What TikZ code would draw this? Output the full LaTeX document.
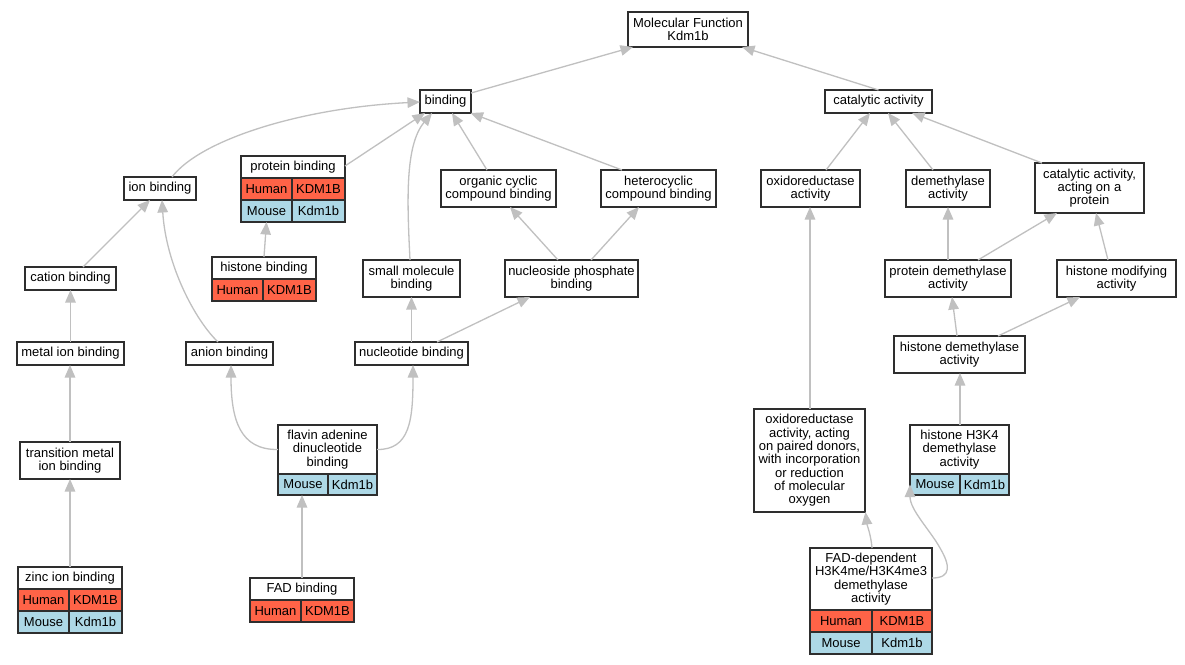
\documentclass[tikz,border=0pt]{standalone}
\usepackage{fontspec}
\setmainfont{Liberation Sans}
\usetikzlibrary{arrows.meta,calc}
\definecolor{edgegray}{HTML}{C0C0C0}
\definecolor{human}{HTML}{FF6347}
\definecolor{mouse}{HTML}{ADD8E6}
\definecolor{boxline}{HTML}{2E2E2E}
\begin{document}
\begin{tikzpicture}[x=1pt,y=-1pt,
  box/.style={draw=boxline, line width=1.3pt, fill=white, inner sep=0pt, align=center, font=\fontsize{13}{13.3}\selectfont},
  cell/.style={draw=boxline, line width=1.3pt, inner sep=0pt, align=center, font=\fontsize{13}{13.3}\selectfont},
  hcell/.style={cell, fill=human},
  mcell/.style={cell, fill=mouse},
  edge/.style={draw=edgegray, line width=1.3pt, -{Triangle[length=12.5pt,width=10.5pt]}}]
\fill[white] (0,0) rectangle (1185,664);
\useasboundingbox (0,0) rectangle (1185,664);

% plain boxes
\node[box, minimum width=120pt, minimum height=35pt] (mf) at (688,29.5) {Molecular Function\\Kdm1b};
\node[box, minimum width=51pt, minimum height=23pt] (bind) at (445.5,101.5) {binding};
\node[box, minimum width=107pt, minimum height=23pt] (cat) at (878.5,101.5) {catalytic activity};
\node[box, minimum width=72pt, minimum height=23pt] (ion) at (160,188.5) {ion binding};
\node[box, minimum width=115pt, minimum height=37pt] (ocb) at (498.5,188.5) {organic cyclic\\compound binding};
\node[box, minimum width=115pt, minimum height=37pt] (hcb) at (658.5,188.5) {heterocyclic\\compound binding};
\node[box, minimum width=99pt, minimum height=37pt] (oxa) at (810.5,188.5) {oxidoreductase\\activity};
\node[box, minimum width=84pt, minimum height=37pt] (dem) at (948,188.5) {demethylase\\activity};
\node[box, minimum width=109pt, minimum height=50pt] (cap) at (1089.5,188) {catalytic activity,\\acting on a\\protein};
\node[box, minimum width=91pt, minimum height=23pt] (cation) at (70.5,278.5) {cation binding};
\node[box, minimum width=97pt, minimum height=37pt] (smb) at (411.5,278.5) {small molecule\\binding};
\node[box, minimum width=133pt, minimum height=37pt] (npb) at (571.5,278.5) {nucleoside phosphate\\binding};
\node[box, minimum width=126pt, minimum height=37pt] (pdem) at (948,278.5) {protein demethylase\\activity};
\node[box, minimum width=119pt, minimum height=37pt] (hmod) at (1116.5,278.5) {histone modifying\\activity};
\node[box, minimum width=107pt, minimum height=23pt] (metal) at (70.5,353.5) {metal ion binding};
\node[box, minimum width=87pt, minimum height=23pt] (anion) at (229.5,353.5) {anion binding};
\node[box, minimum width=113pt, minimum height=23pt] (nuc) at (411.5,353.5) {nucleotide binding};
\node[box, minimum width=131pt, minimum height=37pt] (hdem) at (959.5,354.5) {histone demethylase\\activity};
\node[box, minimum width=100pt, minimum height=37pt] (tm) at (70,460.5) {transition metal\\ion binding};
\node[box, minimum width=111pt, minimum height=103pt] (oxp) at (809.5,460.5) {oxidoreductase\\activity, acting\\on paired donors,\\with incorporation\\or reduction\\of molecular\\oxygen};

% protein binding table
\node[box, minimum width=104pt, minimum height=22pt] (pb) at (293,167) {protein binding};
\node[hcell, minimum width=51pt, minimum height=22pt] (pb-h1) at (266.5,189) {Human};
\node[hcell, minimum width=53pt, minimum height=22pt] (pb-h2) at (318.5,189) {KDM1B};
\node[mcell, minimum width=51pt, minimum height=22pt] (pb-m1) at (266.5,211) {Mouse};
\node[mcell, minimum width=53pt, minimum height=22pt] (pb-m2) at (318.5,211) {Kdm1b};

% histone binding table
\node[box, minimum width=104pt, minimum height=22pt] (hb) at (264,268) {histone binding};
\node[hcell, minimum width=51pt, minimum height=22pt] (hb-h1) at (237.5,290) {Human};
\node[hcell, minimum width=53pt, minimum height=22pt] (hb-h2) at (289.5,290) {KDM1B};

% flavin table
\node[box, minimum width=99pt, minimum height=49pt] (fad) at (327.5,449.5) {flavin adenine\\dinucleotide\\binding};
\node[mcell, minimum width=50pt, minimum height=21pt] (fad-m1) at (303,484.5) {Mouse};
\node[mcell, minimum width=49pt, minimum height=21pt] (fad-m2) at (352.5,484.5) {Kdm1b};

% histone H3K4 table
\node[box, minimum width=99pt, minimum height=49pt] (h3k4) at (959.5,449.5) {histone H3K4\\demethylase\\activity};
\node[mcell, minimum width=50pt, minimum height=21pt] (h3k4-m1) at (935,484.5) {Mouse};
\node[mcell, minimum width=49pt, minimum height=21pt] (h3k4-m2) at (984.5,484.5) {Kdm1b};

% zinc table
\node[box, minimum width=104pt, minimum height=22pt] (zinc) at (70,578) {zinc ion binding};
\node[hcell, minimum width=51pt, minimum height=22pt] (zinc-h1) at (43.5,600) {Human};
\node[hcell, minimum width=53pt, minimum height=22pt] (zinc-h2) at (95.5,600) {KDM1B};
\node[mcell, minimum width=51pt, minimum height=22pt] (zinc-m1) at (43.5,622) {Mouse};
\node[mcell, minimum width=53pt, minimum height=22pt] (zinc-m2) at (95.5,622) {Kdm1b};

% FAD binding table
\node[box, minimum width=104pt, minimum height=22pt] (fadb) at (302,589) {FAD binding};
\node[hcell, minimum width=51pt, minimum height=22pt] (fadb-h1) at (275.5,611) {Human};
\node[hcell, minimum width=53pt, minimum height=22pt] (fadb-h2) at (327.5,611) {KDM1B};

% FAD-dependent table
\node[box, minimum width=122pt, minimum height=62pt] (fdep) at (871,579) {FAD-dependent\\H3K4me/H3K4me3\\demethylase\\activity};
\node[hcell, minimum width=62pt, minimum height=22pt] (fdep-h1) at (841,621) {Human};
\node[hcell, minimum width=60pt, minimum height=22pt] (fdep-h2) at (902,621) {KDM1B};
\node[mcell, minimum width=62pt, minimum height=22pt] (fdep-m1) at (841,643) {Mouse};
\node[mcell, minimum width=60pt, minimum height=22pt] (fdep-m2) at (902,643) {Kdm1b};

% edges
\draw[edge] ($(bind)+(25.5,-8.5)$) -- ($(mf)+(-55,17.5)$);
\draw[edge] ($(cat)+(0,-11.5)$) -- ($(mf)+(54,17.5)$);
\draw[edge] ($(ion)+(12,-11.5)$) .. controls (200,140) and (300,108) .. ($(bind)+(-25.5,0.5)$);
\draw[edge] ($(pb)+(52,-1)$) -- ($(bind)+(-20.5,11.5)$);
\draw[edge] ($(smb)+(-1.5,-18.5)$) .. controls (407,200) and (405,145) .. ($(bind)+(-13.5,11.5)$);
\draw[edge] ($(ocb)+(-11.5,-18.5)$) -- ($(bind)+(6.5,11.5)$);
\draw[edge] ($(hcb)+(-36.5,-18.5)$) -- ($(bind)+(25,11.5)$);
\draw[edge] ($(oxa)+(15.5,-18.5)$) -- ($(cat)+(-8.5,11.5)$);
\draw[edge] ($(dem)+(-15,-18.5)$) -- ($(cat)+(9.5,11.5)$);
\draw[edge] ($(cap)+(-47.5,-25)$) -- ($(cat)+(33.5,11.5)$);
\draw[edge] ($(cation)+(12.5,-11.5)$) -- ($(ion)+(-10,11.5)$);
\draw[edge] ($(anion)+(-11.5,-11.5)$) .. controls (195,320) and (166,265) .. ($(ion)+(2,11.5)$);
\draw[edge] ($(hb)+(0,-11)$) -- ($(pb-m1)+(0,11)$);
\draw[edge] ($(npb)+(-13.5,-18.5)$) -- ($(ocb)+(11.5,18.5)$);
\draw[edge] ($(npb)+(19.5,-18.5)$) -- ($(hcb)+(-19.5,18.5)$);
\draw[edge] ($(pdem)+(0,-18.5)$) -- ($(dem)+(0,18.5)$);
\draw[edge] ($(pdem)+(30,-18.5)$) -- ($(cap)+(-32.5,25)$);
\draw[edge] ($(hmod)+(-8.5,-18.5)$) -- ($(cap)+(6.5,25)$);
\draw[edge] ($(metal)+(0,-11.5)$) -- ($(cation)+(0,11.5)$);
\draw[edge] ($(nuc)+(0,-11.5)$) -- ($(smb)+(0,18.5)$);
\draw[edge] ($(nuc)+(25.5,-11.5)$) -- ($(npb)+(-41.5,18.5)$);
\draw[edge] ($(hdem)+(-2.5,-18.5)$) -- ($(pdem)+(4,18.5)$);
\draw[edge] ($(hdem)+(38.5,-18.5)$) -- ($(hmod)+(-36.5,18.5)$);
\draw[edge] ($(tm)+(0,-18.5)$) -- ($(metal)+(-0.5,11.5)$);
\draw[edge] ($(fad)+(-49.5,0)$) .. controls (240,450) and (231,420) .. ($(anion)+(1.5,11.5)$);
\draw[edge] ($(fad)+(49.5,0)$) .. controls (410,450) and (413,420) .. ($(nuc)+(1.5,11.5)$);
\draw[edge] ($(oxp)+(0.5,-51.5)$) -- ($(oxa)+(-0.5,18.5)$);
\draw[edge] ($(h3k4)+(0.5,-24.5)$) -- ($(hdem)+(0.5,18.5)$);
\draw[edge] ($(zinc)+(0,-11)$) -- ($(tm)+(0,18.5)$);
\draw[edge] ($(fadb)+(0,-11)$) -- ($(fad-m1)+(-1,10.5)$);
\draw[edge] ($(fdep)+(1,-31)$) .. controls (871,535) and (867,525) .. ($(oxp)+(56,51.5)$);
\draw[edge] ($(fdep)+(61,-1)$) .. controls (952,578) and (950,565) .. (940,548) .. controls (930,530) and (910,510) .. ($(h3k4-m1)+(-25,0)$);
\end{tikzpicture}
\end{document}
